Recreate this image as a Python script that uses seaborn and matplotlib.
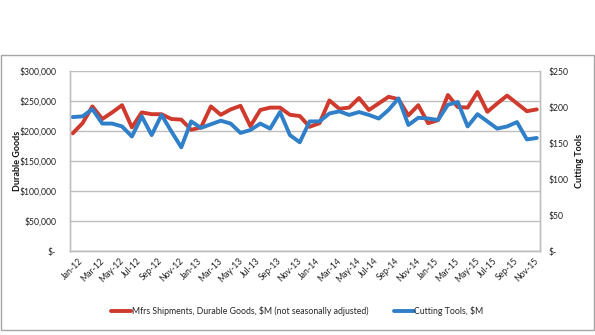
import matplotlib
matplotlib.use("Agg")
import matplotlib.pyplot as plt
import seaborn as sns
import pandas as pd
import numpy as np
from matplotlib.patches import Rectangle

sns.set_theme(style="white")
plt.rcParams['font.family'] = ['Lato', 'DejaVu Sans']

months = [f"{m}-{y}" for y in ["12", "13", "14", "15"]
          for m in ["Jan", "Feb", "Mar", "Apr", "May", "Jun", "Jul", "Aug", "Sep", "Oct", "Nov", "Dec"]]

durable_goods = [196, 213, 241, 220, 231, 243, 206, 231, 228, 228, 220, 219,
                 202, 206, 241, 227, 236, 242, 208, 235, 239, 239, 227, 225,
                 207, 213, 251, 237, 239, 255, 235, 246, 257, 253, 226, 243,
                 213, 218, 260, 240, 239, 265, 232, 246, 259, 246, 233, 236]
durable_goods = [v * 1000 for v in durable_goods]

cutting_tools = [186, 187, 197, 177, 177, 173, 159, 187, 161, 189, 166, 144,
                 180, 171, 176, 181, 177, 164, 168, 177, 170, 193, 161, 151,
                 180, 180, 191, 194, 189, 193, 189, 184, 196, 212, 175, 185,
                 184, 182, 203, 207, 173, 190, 180, 170, 173, 179, 155, 157]

left_ticks = [0, 50000, 100000, 150000, 200000, 250000, 300000]
left_labels = ["$-", "$50,000", "$100,000", "$150,000", "$200,000", "$250,000", "$300,000"]
right_ticks = [0, 50, 100, 150, 200, 250]
right_labels = ["$-", "$50", "$100", "$150", "$200", "$250"]

red_name = "Mfrs Shipments, Durable Goods, $M (not seasonally adjusted)"
blue_name = "Cutting Tools, $M"

df = pd.DataFrame({"idx": np.arange(len(months)), "month": months,
                   "durable": durable_goods, "tools": cutting_tools})

RED = "#CF3A2C"
BLUE = "#2F7FC9"
GRID = "#BFBFBF"

fig = plt.figure(figsize=(5.95, 3.35), dpi=100)
fig.patches.append(Rectangle((1/595, 5/335), 593/595, 275/335, transform=fig.transFigure,
                             fill=False, edgecolor="#A6A6A6", linewidth=1.0))
ax = fig.add_axes([70/595, 1 - 251/335, 470/595, 180/335])
ax2 = ax.twinx()

sns.lineplot(data=df, x="idx", y="durable", ax=ax, color=RED, linewidth=2.8, label=red_name, legend=False)
sns.lineplot(data=df, x="idx", y="tools", ax=ax2, color=BLUE, linewidth=2.8, label=blue_name, legend=False)

ax.set_xlim(-0.27, len(months) - 1 + 0.33)
ax.set_ylim(0, 300000)
ax2.set_ylim(0, 250)

ax.set_yticks(left_ticks)
ax.set_yticklabels(left_labels)
ax2.set_yticks(right_ticks)
ax2.set_yticklabels(right_labels)

ax.set_xticks(df["idx"][::2])
ax.set_xticklabels(df["month"][::2], rotation=45, ha="center")

ax.yaxis.grid(True, color=GRID, linewidth=1.0)
ax.set_axisbelow(True)
for a in (ax, ax2):
    a.tick_params(axis="both", length=0, labelsize=6.2, colors="#222222")
    for s in a.spines.values():
        s.set_color(GRID)
        s.set_linewidth(1.0)
    a.spines["top"].set_visible(False)
ax.tick_params(axis="y", pad=10)
ax2.tick_params(axis="y", pad=6)
ax.tick_params(axis="x", pad=4)

ax.set_xlabel("")
ax.set_ylabel("")
ax2.set_ylabel("")
ymid = 1 - 161/335
fig.text(18/595, ymid, "Durable Goods", rotation=90, ha="center", va="center",
         fontsize=6.5, fontweight="bold", color="#111111")
fig.text(580/595, ymid, "Cutting Tools", rotation=90, ha="center", va="center",
         fontsize=6.5, fontweight="bold", color="#111111")

h1, l1 = ax.get_legend_handles_labels()
h2, l2 = ax2.get_legend_handles_labels()
fig.legend(h1 + h2, l1 + l2, loc="center", bbox_to_anchor=(0.5, 1 - 311/335), ncol=2,
           frameon=False, fontsize=6.3, handlelength=2.2, handletextpad=0.1, columnspacing=3.0)

fig.savefig("out.png", dpi=100)
